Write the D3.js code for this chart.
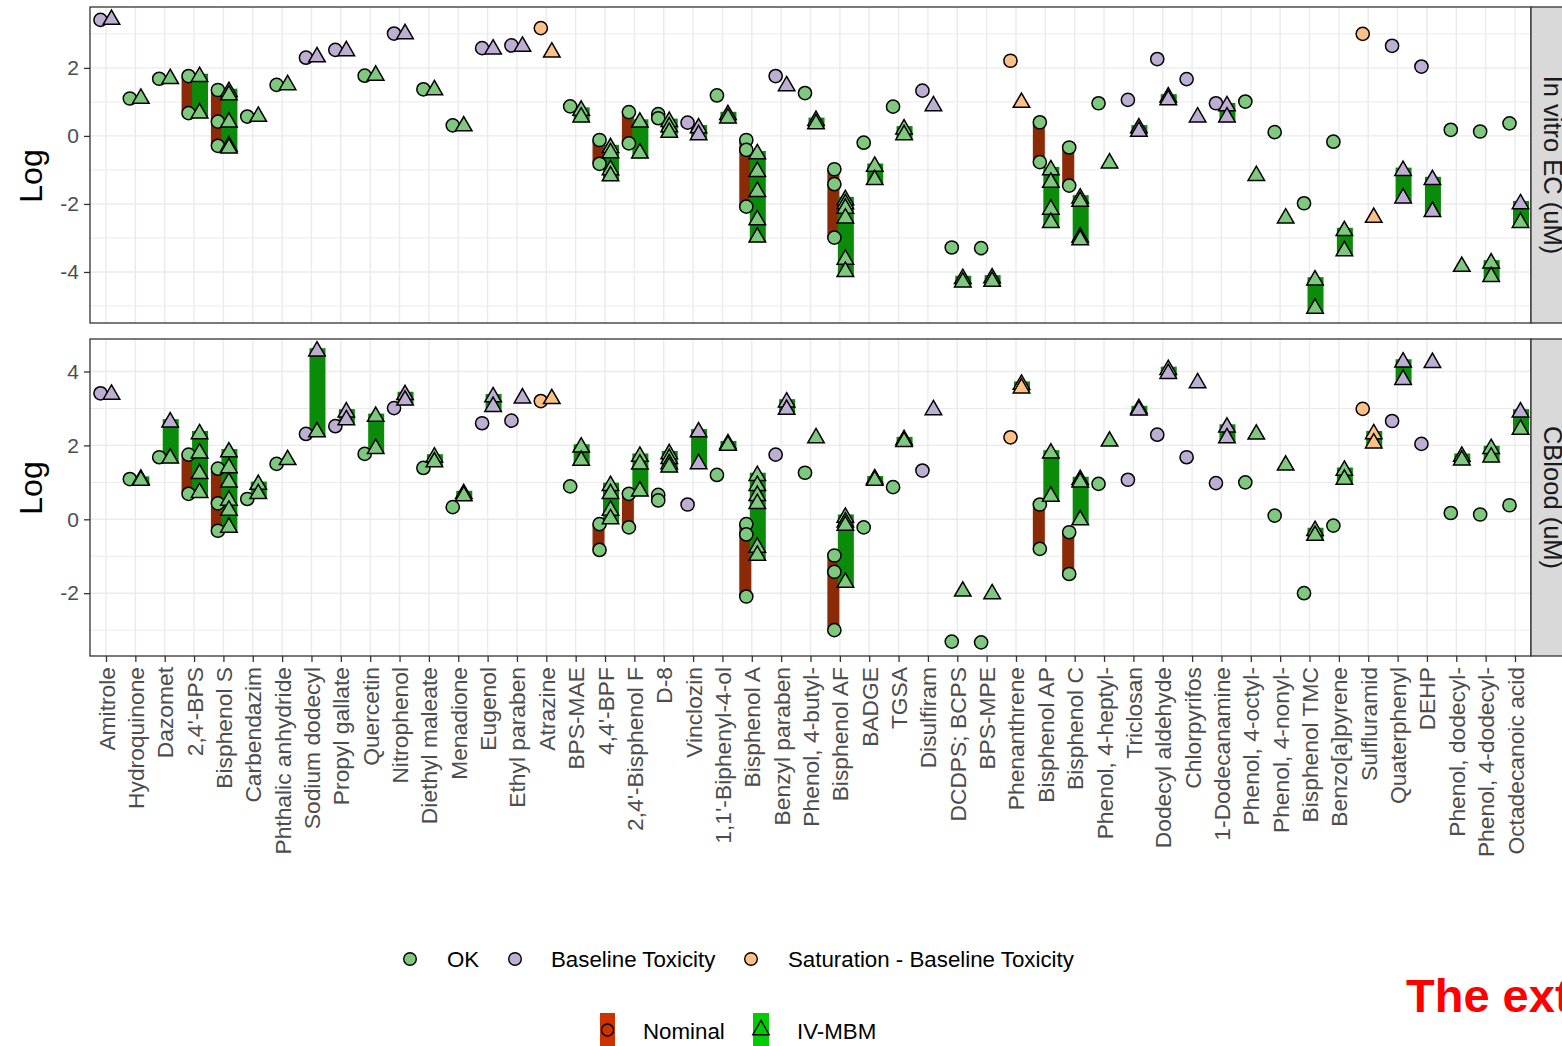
<!DOCTYPE html>
<html>
<head>
<meta charset="utf-8">
<script src="https://cdn.jsdelivr.net/npm/d3@7"></script>
<style>
  body { margin: 0; background: #ffffff; }
  svg { display: block; font-family: "Liberation Sans", Arial, sans-serif; }
</style>
</head>
<body>
<svg id="chart" width="1562" height="1046"></svg>
<script>
// ---- data -------------------------------------------------------------
const categories = [
  "Amitrole", "Hydroquinone", "Dazomet", "2,4'-BPS", "Bisphenol S", "Carbendazim",
  "Phthalic anhydride", "Sodium dodecyl", "Propyl gallate", "Quercetin", "Nitrophenol",
  "Diethyl maleate", "Menadione", "Eugenol", "Ethyl paraben", "Atrazine", "BPS-MAE",
  "4,4'-BPF", "2,4'-Bisphenol F", "D-8", "Vinclozin", "1,1'-Biphenyl-4-ol", "Bisphenol A",
  "Benzyl paraben", "Phenol, 4-butyl-", "Bisphenol AF", "BADGE", "TGSA", "Disulfiram",
  "DCDPS; BCPS", "BPS-MPE", "Phenanthrene", "Bisphenol AP", "Bisphenol C",
  "Phenol, 4-heptyl-", "Triclosan", "Dodecyl aldehyde", "Chlorpyrifos", "1-Dodecanamine",
  "Phenol, 4-octyl-", "Phenol, 4-nonyl-", "Bisphenol TMC", "Benzo[a]pyrene", "Sulfluramid",
  "Quaterphenyl", "DEHP", "Phenol, dodecyl-", "Phenol, 4-dodecyl-", "Octadecanoic acid"
];

// quality flags of each value
const O = "OK", B = "BT", S = "SAT";
const statusCodes = [O, B, S];
const statusLabels = ["OK", "Baseline Toxicity", "Saturation - Baseline Toxicity"];
const concLabels = ["Nominal", "IV-MBM"];
const panelLabels = ["In vitro EC (uM)", "CBlood (uM)"];
const yTicksEc = [-4, -2, 0, 2];
const yTicksBlood = [-2, 0, 2, 4];

// log effect concentrations in vitro, one list of [value, flag] per chemical
const ecNominal = [
  [[3.41,B]], [[1.10,O]], [[1.68,O]], [[1.76,O],[0.67,O]], [[1.35,O],[0.42,O],[-0.29,O]],
  [[0.57,O]], [[1.50,O]], [[2.30,B]], [[2.53,B]], [[1.77,O]], [[3.01,B]], [[1.37,O]],
  [[0.31,O]], [[2.58,B]], [[2.66,B]], [[3.17,S]], [[0.87,O]], [[-0.12,O],[-0.82,O]],
  [[0.70,O],[-0.22,O]], [[0.64,O],[0.52,O]], [[0.39,B]], [[1.19,O]],
  [[-0.12,O],[-0.41,O],[-2.08,O]], [[1.76,B]], [[1.26,O]], [[-0.98,O],[-1.42,O],[-2.99,O]],
  [[-0.20,O]], [[0.86,O]], [[1.33,B]], [[-3.28,O]], [[-3.30,O]], [[2.21,S]],
  [[0.40,O],[-0.77,O]], [[-0.34,O],[-1.46,O]], [[0.96,O]], [[1.06,B]], [[2.26,B]],
  [[1.67,B]], [[0.96,B]], [[1.01,O]], [[0.11,O]], [[-1.98,O]], [[-0.17,O]], [[3.00,S]],
  [[2.65,B]], [[2.04,B]], [[0.18,O]], [[0.13,O]], [[0.37,O]]
];
const ecIvmbm = [
  [[3.42,B]], [[1.10,O]], [[1.68,O]], [[1.74,O],[0.67,O]],
  [[1.30,O],[1.20,O],[0.40,O],[-0.30,O],[-0.36,O]], [[0.57,O]], [[1.50,O]], [[2.32,B]],
  [[2.50,B]], [[1.78,O]], [[3.00,B]], [[1.35,O]], [[0.29,O]], [[2.55,B]], [[2.63,B]],
  [[2.46,S]], [[0.75,O],[0.55,O]], [[-0.35,O],[-0.50,O],[-1.00,O],[-1.18,O]],
  [[0.40,O],[-0.51,O]], [[0.42,O],[0.26,O],[0.10,O]], [[0.23,B],[0.03,B]],
  [[0.62,O],[0.52,O]], [[-0.53,O],[-1.05,O],[-1.64,O],[-2.47,O],[-2.98,O]], [[1.47,B]],
  [[0.45,O],[0.35,O]], [[-1.88,O],[-2.00,O],[-2.13,O],[-2.42,O],[-3.63,O],[-3.99,O]],
  [[-0.90,O],[-1.29,O]], [[0.20,O],[0.03,O]], [[0.88,B]], [[-4.20,O],[-4.30,O]],
  [[-4.18,O],[-4.28,O]], [[0.98,S]], [[-1.00,O],[-1.37,O],[-2.16,O],[-2.55,O]],
  [[-1.83,O],[-1.93,O],[-2.98,O],[-3.06,O]], [[-0.80,O]], [[0.23,B],[0.13,B]],
  [[1.14,B],[1.06,B]], [[0.55,B]], [[0.88,B],[0.55,B]], [[-1.17,O]], [[-2.42,O]],
  [[-4.24,O],[-5.07,O]], [[-2.79,O],[-3.38,O]], [[-2.40,S]], [[-1.02,B],[-1.83,B]],
  [[-1.29,B],[-2.23,B]], [[-3.84,O]], [[-3.74,O],[-4.14,O]], [[-2.00,B],[-2.55,O]]
];

// log blood concentrations
const bloodNominal = [
  [[3.41,B]], [[1.09,O]], [[1.68,O]], [[1.75,O],[0.69,O]], [[1.37,O],[0.43,O],[-0.31,O]],
  [[0.55,O]], [[1.50,O]], [[2.31,B]], [[2.52,B]], [[1.77,O]], [[3.01,B]], [[1.39,O]],
  [[0.33,O]], [[2.60,B]], [[2.67,B]], [[3.20,S]], [[0.89,O]], [[-0.13,O],[-0.83,O]],
  [[0.69,O],[-0.22,O]], [[0.66,O],[0.51,O]], [[0.40,B]], [[1.20,O]],
  [[-0.13,O],[-0.41,O],[-2.09,O]], [[1.75,B]], [[1.26,O]], [[-0.98,O],[-1.42,O],[-3.00,O]],
  [[-0.22,O]], [[0.87,O]], [[1.32,B]], [[-3.31,O]], [[-3.33,O]], [[2.22,S]],
  [[0.40,O],[-0.80,O]], [[-0.35,O],[-1.48,O]], [[0.96,O]], [[1.07,B]], [[2.29,B]],
  [[1.68,B]], [[0.98,B]], [[1.00,O]], [[0.10,O]], [[-2.00,O]], [[-0.17,O]], [[2.99,S]],
  [[2.66,B]], [[2.04,B]], [[0.17,O]], [[0.13,O]], [[0.38,O]]
];
const bloodIvmbm = [
  [[3.38,B]], [[1.08,O],[1.05,O]], [[2.63,B],[1.65,O]], [[2.31,O],[1.79,O],[1.23,O],[0.72,O]],
  [[1.82,O],[1.39,O],[1.00,O],[0.51,O],[0.24,O],[-0.22,O]], [[0.94,O],[0.69,O]], [[1.61,O]],
  [[4.55,B],[2.36,O]], [[2.90,B],[2.69,B]], [[2.78,O],[1.91,O]], [[3.37,B],[3.22,B]],
  [[1.68,O],[1.55,O]], [[0.69,O],[0.63,O]], [[3.31,B],[3.05,B]], [[3.28,B]], [[3.26,S]],
  [[1.95,O],[1.59,O]], [[0.91,O],[0.69,O],[0.24,O],[0.01,O]], [[1.70,O],[1.49,O],[0.76,O]],
  [[1.77,O],[1.64,O],[1.50,O],[1.41,O]], [[2.36,B],[1.50,B]], [[2.04,O],[2.00,O]],
  [[1.18,O],[0.91,O],[0.64,O],[0.42,O],[-0.76,O],[-0.98,O]], [[3.17,B],[2.97,B]], [[2.20,O]],
  [[0.05,O],[-0.08,O],[-0.17,O],[-1.71,O]], [[1.09,O],[1.05,O]], [[2.15,O],[2.10,O]],
  [[2.96,B]], [[-1.95,O]], [[-2.02,O]], [[3.65,S],[3.55,S]], [[1.79,O],[0.62,O]],
  [[1.07,O],[1.00,O],[-0.02,O]], [[2.11,O]], [[2.99,B],[2.95,B]], [[4.05,B],[3.94,B]],
  [[3.69,B]], [[2.49,B],[2.20,B]], [[2.30,O]], [[1.46,O]], [[-0.31,O],[-0.44,O]],
  [[1.32,O],[1.08,O]], [[2.31,S],[2.06,S]], [[4.25,B],[3.78,B]], [[4.24,B]],
  [[1.70,O],[1.60,O]], [[1.91,O],[1.68,O]], [[2.90,B],[2.43,O]]
];

// ---- drawing ----------------------------------------------------------
const fillByStatus = d3.scaleOrdinal().domain(statusCodes).range(["#7FC97F", "#BEAED4", "#FDC086"]);
const barColor = { nominal: "#8B2A06", ivmbm: "#0A8C0A" };
const keyColor = { nominal: "#CC3300", ivmbm: "#00CC00" };

const svg = d3.select("#chart");
const plotLeft = 90, plotRight = 1531, stripRight = 1578;
const x = d3.scalePoint().domain(categories).range([106, 1515]);
const nominalShift = -5.5, ivShift = 5.5;
const triangle = d3.symbol().type(d3.symbolTriangle).size(118);

const panels = [
  { label: panelLabels[0], top: 7, bottom: 323, domain: [-5.5, 3.79], ticks: yTicksEc,
    nominal: ecNominal, ivmbm: ecIvmbm, titleY: 176 },
  { label: panelLabels[1], top: 339, bottom: 656, domain: [-3.7, 4.88], ticks: yTicksBlood,
    nominal: bloodNominal, ivmbm: bloodIvmbm, titleY: 488 }
];

panels.forEach(p => {
  const y = d3.scaleLinear().domain(p.domain).range([p.bottom, p.top]);
  const g = svg.append("g");

  // background and grid
  g.append("rect").attr("x", plotLeft).attr("y", p.top)
    .attr("width", plotRight - plotLeft).attr("height", p.bottom - p.top).attr("fill", "#fff");
  const minor = d3.range(Math.ceil(p.domain[0]), Math.floor(p.domain[1]) + 1)
    .filter(v => Math.abs(v % 2) === 1);
  g.selectAll(".minor").data(minor).join("line")
    .attr("x1", plotLeft).attr("x2", plotRight)
    .attr("y1", d => y(d)).attr("y2", d => y(d))
    .attr("stroke", "#EBEBEB").attr("stroke-width", 1);
  g.selectAll(".major").data(p.ticks).join("line")
    .attr("x1", plotLeft).attr("x2", plotRight)
    .attr("y1", d => y(d)).attr("y2", d => y(d))
    .attr("stroke", "#EBEBEB").attr("stroke-width", 1.4);
  g.selectAll(".vgrid").data(categories).join("line")
    .attr("x1", d => x(d)).attr("x2", d => x(d))
    .attr("y1", p.top).attr("y2", p.bottom)
    .attr("stroke", "#EBEBEB").attr("stroke-width", 1.4);

  // range bars
  const ranges = (series) => categories.map((c, i) => {
    const vals = series[i].map(d => d[0]);
    return { c, hi: d3.max(vals), lo: d3.min(vals), n: vals.length };
  }).filter(r => r.n > 1 && r.hi > r.lo);

  g.selectAll(".nomBar").data(ranges(p.nominal)).join("rect")
    .attr("x", d => x(d.c) + nominalShift - 7)
    .attr("width", 12)
    .attr("y", d => y(d.hi) - 3)
    .attr("height", d => y(d.lo) - y(d.hi) + 6)
    .attr("rx", 5)
    .attr("fill", barColor.nominal);

  g.selectAll(".ivBar").data(ranges(p.ivmbm)).join("rect")
    .attr("x", d => x(d.c) - 2)
    .attr("width", 16)
    .attr("y", d => y(d.hi) - 3)
    .attr("height", d => y(d.lo) - y(d.hi) + 8)
    .attr("fill", barColor.ivmbm);

  // points
  const flat = (series) => categories.flatMap((c, i) => series[i].map(d => ({ c, v: d[0], s: d[1] })));

  g.selectAll(".nomPt").data(flat(p.nominal)).join("circle")
    .attr("cx", d => x(d.c) + nominalShift)
    .attr("cy", d => y(d.v))
    .attr("r", 6.6)
    .attr("fill", d => fillByStatus(d.s))
    .attr("stroke", "#000").attr("stroke-width", 1.5);

  g.selectAll(".ivPt").data(flat(p.ivmbm)).join("path")
    .attr("d", triangle)
    .attr("transform", d => `translate(${x(d.c) + ivShift},${y(d.v)})`)
    .attr("fill", d => fillByStatus(d.s))
    .attr("stroke", "#000").attr("stroke-width", 1.5).attr("stroke-linejoin", "miter");

  // frame
  g.append("rect").attr("x", plotLeft).attr("y", p.top)
    .attr("width", plotRight - plotLeft).attr("height", p.bottom - p.top)
    .attr("fill", "none").attr("stroke", "#333").attr("stroke-width", 1.3);

  // facet strip
  g.append("rect").attr("x", plotRight).attr("y", p.top)
    .attr("width", stripRight - plotRight).attr("height", p.bottom - p.top)
    .attr("fill", "#D9D9D9").attr("stroke", "#333").attr("stroke-width", 1.3);
  g.append("text")
    .attr("transform", `translate(${plotRight + 22},${(p.top + p.bottom) / 2}) rotate(90)`)
    .attr("text-anchor", "middle").attr("dominant-baseline", "central")
    .attr("font-size", 25.5).attr("fill", "#1A1A1A")
    .text(p.label);

  // y axis
  const ax = g.append("g").attr("transform", `translate(${plotLeft},0)`)
    .call(d3.axisLeft(y).tickValues(p.ticks).tickSize(6).tickPadding(5).tickFormat(d3.format("d")));
  ax.select(".domain").remove();
  ax.selectAll(".tick line").attr("stroke", "#333").attr("stroke-width", 1.3);
  ax.selectAll(".tick text").attr("font-size", 21).attr("fill", "#4D4D4D")
    .attr("font-family", "Liberation Sans, Arial, sans-serif")
    .text(d => d < 0 ? "-" + Math.abs(d) : d);

  g.append("text")
    .attr("transform", `translate(31,${p.titleY}) rotate(-90)`)
    .attr("text-anchor", "middle").attr("dominant-baseline", "central")
    .attr("font-size", 32).attr("fill", "#000")
    .text("Log");

  // x axis under the lower panel
  if (p === panels[1]) {
    const xa = svg.append("g").attr("transform", `translate(0,${p.bottom})`)
      .call(d3.axisBottom(x).tickSize(6).tickPadding(5));
    xa.select(".domain").remove();
    xa.selectAll(".tick line").attr("stroke", "#333").attr("stroke-width", 1.3);
    xa.selectAll(".tick text")
      .attr("font-size", 22.8).attr("fill", "#4D4D4D")
      .attr("font-family", "Liberation Sans, Arial, sans-serif")
      .attr("text-anchor", "end")
      .attr("dy", null)
      .attr("dominant-baseline", "central")
      .attr("transform", "translate(0,11) rotate(-90)")
      .attr("x", 0).attr("y", 0);
  }
});

// ---- legends ----------------------------------------------------------
const leg1 = svg.append("g").attr("font-size", 22.3).attr("fill", "#000");
const leg1Keys = [410, 515, 751];
const leg1Text = [447, 551, 788];
statusCodes.forEach((s, i) => {
  leg1.append("circle").attr("cx", leg1Keys[i]).attr("cy", 959).attr("r", 6.3)
    .attr("fill", fillByStatus(s)).attr("stroke", "#000").attr("stroke-width", 1.4);
  leg1.append("text").attr("x", leg1Text[i]).attr("y", 959)
    .attr("dominant-baseline", "central").text(statusLabels[i]);
});

const leg2 = svg.append("g").attr("font-size", 22.3).attr("fill", "#000");
leg2.append("rect").attr("x", 600).attr("y", 1013).attr("width", 15).attr("height", 40)
  .attr("fill", keyColor.nominal);
leg2.append("circle").attr("cx", 607.5).attr("cy", 1030).attr("r", 6)
  .attr("fill", "none").attr("stroke", "#000").attr("stroke-width", 1.4);
leg2.append("text").attr("x", 643).attr("y", 1031).attr("dominant-baseline", "central").text(concLabels[0]);
leg2.append("rect").attr("x", 753).attr("y", 1013).attr("width", 16).attr("height", 40)
  .attr("fill", keyColor.ivmbm);
leg2.append("path").attr("d", triangle).attr("transform", "translate(761,1030)")
  .attr("fill", "none").attr("stroke", "#000").attr("stroke-width", 1.4);
leg2.append("text").attr("x", 797).attr("y", 1031).attr("dominant-baseline", "central").text(concLabels[1]);

// caption fragment at the lower right
svg.append("text").attr("x", 1406).attr("y", 1012)
  .attr("font-size", 47).attr("font-weight", "bold").attr("fill", "#FF0000")
  .attr("font-family", "Liberation Sans, Arial, sans-serif")
  .text("The ext");
</script>
</body>
</html>
